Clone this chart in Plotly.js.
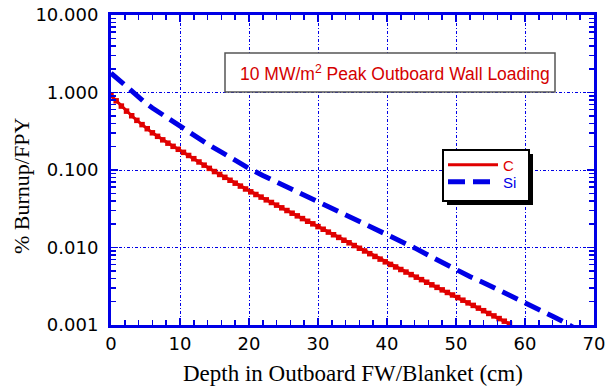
<!DOCTYPE html>
<html>
<head>
<meta charset="utf-8">
<script src="https://cdn.plot.ly/plotly-3.0.1.min.js"></script>
<style>html,body{margin:0;padding:0;background:#fff;}#chart{width:607px;height:387px;}</style>
</head>
<body>
<div id="chart"></div>
<script>
// Depth (cm) for C curve
var depthC = [0,0.75,1.5,2.25,3,3.75,4.5,5.25,6,6.75,7.5,8.25,9,9.75,10.5,11.25,12,12.75,13.5,14.25,15,15.75,16.5,17.25,18,18.75,19.5,20.25,21,21.75,22.5,23.25,24,24.75,25.5,26.25,27,27.75,28.5,29.25,30,30.75,31.5,32.25,33,33.75,34.5,35.25,36,36.75,37.5,38.25,39,39.75,40.5,41.25,42,42.75,43.5,44.25,45,45.75,46.5,47.25,48,48.75,49.5,50.25,51,51.75,52.5,53.25,54,54.75,55.5,56.25,57,57.75];
// % Burnup/FPY for C
var burnupC = [0.912,0.781,0.668,0.575,0.501,0.437,0.385,0.341,0.302,0.272,0.245,0.222,0.202,0.185,0.169,0.154,0.140,0.127,0.1155,0.105,0.0955,0.0876,0.0804,0.0737,0.0676,0.0620,0.0569,0.0523,0.0483,0.0447,0.0412,0.0381,0.0352,0.0325,0.0300,0.0277,0.0256,0.0236,0.0218,0.0202,0.0186,0.0172,0.0158,0.0146,0.0135,0.0124,0.0115,0.0106,0.00977,0.00902,0.00832,0.00767,0.00708,0.00653,0.00605,0.00561,0.00520,0.00482,0.00447,0.00414,0.00385,0.00356,0.00330,0.00306,0.00284,0.00263,0.00244,0.00226,0.00209,0.00193,0.00179,0.00165,0.00153,0.00141,0.00131,0.00121,0.00112,0.00103];
// Depth (cm) for Si curve
var depthSi = [0,1,2,3,4,5,6,7,8,9,10,12,14,16,18,20,22,24,26,28,30,32,34,36,38,40,42,44,46,48,50,52,54,56,58,60,62,64,66,67];
// % Burnup/FPY for Si
var burnupSi = [1.78,1.48,1.23,1.02,0.861,0.733,0.631,0.550,0.479,0.417,0.363,0.279,0.216,0.170,0.133,0.105,0.0851,0.0700,0.0575,0.0479,0.0394,0.0324,0.0266,0.0221,0.0184,0.0152,0.0123,0.00989,0.00794,0.00638,0.00513,0.00422,0.00351,0.00288,0.00240,0.00200,0.00162,0.00130,0.00105,0.00093];

var seriesNames = ['C', 'Si'];
var boxText = '10 MW/m<sup>2</sup> Peak Outboard Wall Loading';
var xTitle = 'Depth in Outboard FW/Blanket (cm)';
var yTitle = '% Burnup/FPY';

var RED = '#e00000', BLUE = '#0000e6';

var traces = [
  {x: depthC, y: burnupC, type: 'scatter', mode: 'lines', name: seriesNames[0], legend: 'legend',
   line: {color: RED, width: 3}},
  {x: depthC, y: burnupC, type: 'scatter', mode: 'markers', showlegend: false,
   marker: {symbol: 'square', size: 5.5, color: RED}},
  {x: depthSi, y: burnupSi, type: 'scatter', mode: 'lines', name: seriesNames[1], legend: 'legend2',
   line: {color: BLUE, width: 5, dash: '17px,8px'}}
];

var L = 111, R = 594, T = 15, B = 325;
function px(xp){ return (xp - L) / (R - L); }
function py(yp){ return (B - yp) / (B - T); }

var legendBase = {
  xanchor: 'left', yanchor: 'middle',
  bgcolor: 'rgba(0,0,0,0)', borderwidth: 0,
  tracegroupgap: 0, itemwidth: 50
};

var layout = {
  width: 607, height: 387,
  margin: {l: L, r: 607 - R, t: T, b: 387 - B},
  paper_bgcolor: '#fff', plot_bgcolor: '#fff',
  showlegend: true,
  font: {family: 'DejaVu Sans', color: '#000'},
  xaxis: {
    range: [0, 70], tickmode: 'linear', tick0: 0, dtick: 10,
    ticks: 'inside', ticklen: 7, tickwidth: 1.5, tickcolor: BLUE,
    showline: true, linecolor: BLUE, linewidth: 3, mirror: 'allticks',
    showgrid: true, gridcolor: BLUE, gridwidth: 1, griddash: '3px,2px,1px,2px',
    zeroline: false,
    tickfont: {family: 'DejaVu Sans', size: 18, color: '#000'},
    minor: {dtick: 2, ticks: 'inside', ticklen: 5, tickwidth: 1.5, tickcolor: BLUE, showgrid: false}
  },
  yaxis: {
    type: 'log', range: [-3, 1], tickmode: 'linear', tick0: 0, dtick: 1, tickformat: '.3f',
    ticks: 'inside', ticklen: 7, tickwidth: 1.5, tickcolor: BLUE,
    showline: true, linecolor: BLUE, linewidth: 3, mirror: 'allticks',
    showgrid: true, gridcolor: BLUE, gridwidth: 1, griddash: '3px,2px,1px,2px',
    zeroline: false, ticklabelstandoff: 6,
    tickfont: {family: 'DejaVu Sans', size: 18, color: '#000'},
    minor: {dtick: 'D1', ticks: 'inside', ticklen: 5, tickwidth: 1.5, tickcolor: BLUE, showgrid: false}
  },
  legend: Object.assign({}, legendBase, {x: px(443), y: py(165),
    font: {family: 'Liberation Sans', size: 15, color: RED}}),
  legend2: Object.assign({}, legendBase, {x: px(443), y: py(182),
    font: {family: 'Liberation Sans', size: 15, color: BLUE}}),
  shapes: [
    {type: 'rect', xref: 'paper', yref: 'paper', x0: px(225), x1: px(555), y0: py(92), y1: py(53),
     fillcolor: '#fff', line: {color: '#555', width: 1.5}, layer: 'above'},
    {type: 'rect', xref: 'paper', yref: 'paper', x0: px(447), x1: px(533), y0: py(205), y1: py(154),
     fillcolor: '#000', line: {width: 0}, layer: 'above'},
    {type: 'rect', xref: 'paper', yref: 'paper', x0: px(443), x1: px(529), y0: py(201), y1: py(150),
     fillcolor: '#fff', line: {color: '#000', width: 2}, layer: 'above'}
  ],
  annotations: [
    {xref: 'paper', yref: 'paper', x: px(395), y: py(73), xanchor: 'center', yanchor: 'middle',
     text: boxText, showarrow: false, font: {family: 'Liberation Sans', size: 17.5, color: '#d40000'}},
    {xref: 'paper', yref: 'paper', x: px(353), y: py(374), xanchor: 'center', yanchor: 'middle',
     text: xTitle, showarrow: false, font: {family: 'Liberation Serif', size: 23, color: '#000'}},
    {xref: 'paper', yref: 'paper', x: px(21), y: py(186), xanchor: 'center', yanchor: 'middle',
     text: yTitle, textangle: -90, showarrow: false, font: {family: 'Liberation Serif', size: 22, color: '#000'}}
  ]
};

Plotly.newPlot('chart', traces, layout, {staticPlot: true, displayModeBar: false});
</script>
</body>
</html>
